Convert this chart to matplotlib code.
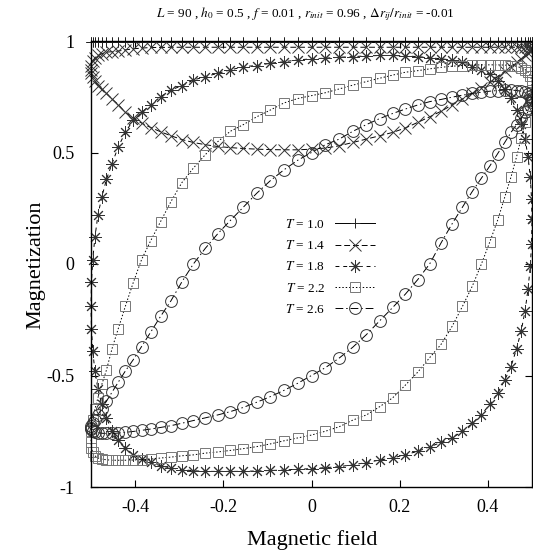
import matplotlib
matplotlib.use("Agg")
import matplotlib.pyplot as plt


#------------------------------------------------- Data ------------------------------------------------
# Field values of one half-period sweep, h = h_0 cos(2 pi f t), from +h_0 down to -h_0 (f = 0.01 -> 50 steps)
FieldDown = [0.5, 0.4990, 0.4961, 0.4911, 0.4843, 0.4755, 0.4649, 0.4524, 0.4382, 0.4222, 0.4045, 0.3853, 0.3645,
             0.3423, 0.3187, 0.2939, 0.2679, 0.2409, 0.2129, 0.1841, 0.1545, 0.1243, 0.0937, 0.0627, 0.0314, 0.0,
             -0.0314, -0.0627, -0.0937, -0.1243, -0.1545, -0.1841, -0.2129, -0.2409, -0.2679, -0.2939, -0.3187,
             -0.3423, -0.3645, -0.3853, -0.4045, -0.4222, -0.4382, -0.4524, -0.4649, -0.4755, -0.4843, -0.4911,
             -0.4961, -0.4990, -0.5]
FieldUp = FieldDown[::-1]  # Same points, swept back up

Temperatures = ["1.0", "1.4", "1.8", "2.2", "2.6"]

# Magnetization on the decreasing-field branch (aligned with FieldDown)
M_T10_Down = [0.997, 0.997, 0.997, 0.997, 0.997, 0.997, 0.997, 0.997, 0.997, 0.997, 0.997, 0.997, 0.997, 0.997,
              0.997, 0.997, 0.997, 0.997, 0.997, 0.997, 0.997, 0.997, 0.997, 0.997, 0.997, 0.997, 0.997, 0.997,
              0.997, 0.997, 0.997, 0.997, 0.997, 0.997, 0.997, 0.997, 0.997, 0.997, 0.997, 0.997, 0.997, 0.997,
              0.997, 0.997, 0.997, 0.997, 0.997, 0.997, 0.997, 0.997, 0.997]
M_T14_Down = [0.965, 0.968, 0.970, 0.971, 0.972, 0.972, 0.972, 0.972, 0.972, 0.972, 0.972, 0.972, 0.972, 0.972,
              0.972, 0.972, 0.972, 0.972, 0.972, 0.972, 0.972, 0.972, 0.972, 0.972, 0.972, 0.972, 0.972, 0.972,
              0.972, 0.972, 0.972, 0.972, 0.972, 0.972, 0.972, 0.972, 0.972, 0.971, 0.971, 0.968, 0.965, 0.960,
              0.955, 0.952, 0.950, 0.943, 0.935, 0.925, 0.910, 0.890, 0.870]
M_T18_Down = [0.20, 0.29, 0.39, 0.48, 0.56, 0.63, 0.69, 0.745, 0.785, 0.82, 0.85, 0.87, 0.885, 0.905, 0.915, 0.92,
              0.925, 0.93, 0.933, 0.935, 0.935, 0.933, 0.93, 0.927, 0.923, 0.92, 0.915, 0.907, 0.90, 0.89, 0.885,
              0.87, 0.855, 0.84, 0.825, 0.80, 0.78, 0.75, 0.715, 0.68, 0.645, 0.59, 0.525, 0.45, 0.38, 0.30, 0.22,
              0.12, 0.02, -0.08, -0.19]
M_T22_Down = [0.80, 0.825, 0.845, 0.86, 0.872, 0.88, 0.886, 0.89, 0.892, 0.893, 0.893, 0.893, 0.892, 0.89, 0.887,
              0.882, 0.875, 0.867, 0.86, 0.847, 0.833, 0.818, 0.802, 0.785, 0.768, 0.755, 0.742, 0.722, 0.69, 0.66,
              0.625, 0.595, 0.548, 0.49, 0.43, 0.365, 0.28, 0.19, 0.105, 0.02, -0.085, -0.19, -0.29, -0.38, -0.475,
              -0.54, -0.60, -0.65, -0.70, -0.75, -0.80]
M_T26_Down = [0.735, 0.745, 0.755, 0.762, 0.77, 0.775, 0.778, 0.78, 0.78, 0.778, 0.775, 0.77, 0.765, 0.757, 0.748,
              0.738, 0.728, 0.713, 0.695, 0.675, 0.652, 0.625, 0.595, 0.56, 0.535, 0.50, 0.465, 0.422, 0.373, 0.317,
              0.255, 0.195, 0.135, 0.07, 0.0, -0.08, -0.165, -0.235, -0.305, -0.37, -0.43, -0.48, -0.53, -0.575,
              -0.615, -0.65, -0.675, -0.70, -0.715, -0.727, -0.735]

# Magnetization on the increasing-field branch (aligned with FieldUp)
M_T10_Up = [0.997, 0.997, 0.997, 0.997, 0.997, 0.997, 0.997, 0.997, 0.997, 0.997, 0.997, 0.997, 0.997, 0.997,
            0.997, 0.997, 0.997, 0.997, 0.997, 0.997, 0.997, 0.997, 0.997, 0.997, 0.997, 0.997, 0.997, 0.997,
            0.997, 0.997, 0.997, 0.997, 0.997, 0.997, 0.997, 0.997, 0.997, 0.997, 0.997, 0.997, 0.997, 0.997,
            0.997, 0.997, 0.997, 0.997, 0.997, 0.997, 0.997, 0.997, 0.997]
M_T14_Up = [0.870, 0.855, 0.840, 0.820, 0.800, 0.785, 0.765, 0.740, 0.715, 0.680, 0.655, 0.632, 0.612, 0.593, 0.575,
            0.558, 0.545, 0.535, 0.527, 0.522, 0.518, 0.515, 0.513, 0.512, 0.512, 0.515, 0.520, 0.530, 0.545, 0.560,
            0.575, 0.590, 0.610, 0.635, 0.660, 0.685, 0.713, 0.740, 0.765, 0.790, 0.815, 0.840, 0.865, 0.885,
            0.905, 0.920, 0.935, 0.945, 0.955, 0.960, 0.965]
M_T18_Up = [-0.19, -0.29, -0.39, -0.48, -0.56, -0.63, -0.69, -0.75, -0.79, -0.825, -0.855, -0.875, -0.89, -0.905,
            -0.915, -0.922, -0.927, -0.93, -0.93, -0.93, -0.93, -0.928, -0.926, -0.924, -0.92, -0.918, -0.913,
            -0.909, -0.90, -0.891, -0.879, -0.87, -0.855, -0.84, -0.82, -0.80, -0.78, -0.75, -0.715, -0.675, -0.63,
            -0.58, -0.52, -0.46, -0.38, -0.30, -0.21, -0.11, -0.01, 0.09, 0.20]
M_T22_Up = [-0.80, -0.825, -0.845, -0.86, -0.87, -0.875, -0.878, -0.88, -0.88, -0.88, -0.879, -0.877, -0.875, -0.87,
            -0.866, -0.86, -0.856, -0.848, -0.843, -0.836, -0.828, -0.819, -0.807, -0.793, -0.78, -0.767, -0.75,
            -0.73, -0.70, -0.677, -0.64, -0.60, -0.543, -0.485, -0.42, -0.36, -0.28, -0.19, -0.10, 0.0, 0.10,
            0.197, 0.30, 0.39, 0.48, 0.565, 0.635, 0.69, 0.735, 0.77, 0.80]
M_T26_Up = [-0.735, -0.742, -0.748, -0.753, -0.757, -0.759, -0.76, -0.76, -0.758, -0.755, -0.751, -0.746, -0.74,
            -0.733, -0.725, -0.714, -0.702, -0.69, -0.677, -0.662, -0.643, -0.62, -0.595, -0.567, -0.535, -0.50,
            -0.465, -0.422, -0.373, -0.317, -0.255, -0.195, -0.135, -0.07, 0.0, 0.095, 0.18, 0.255, 0.325, 0.385,
            0.44, 0.495, 0.545, 0.59, 0.625, 0.655, 0.68, 0.70, 0.715, 0.725, 0.735]

M_Down = [M_T10_Down, M_T14_Down, M_T18_Down, M_T22_Down, M_T26_Down]
M_Up = [M_T10_Up, M_T14_Up, M_T18_Up, M_T22_Up, M_T26_Up]

XTicks = [-0.4, -0.2, 0, 0.2, 0.4]
XTickLabels = ["-0.4", "-0.2", "0", "0.2", "0.4"]
YTicks = [-1, -0.5, 0, 0.5, 1]
YTickLabels = ["-1", "-0.5", "0", "0.5", "1"]


#------------------------------------------------------ Styles ---------------------------------------------------------
Markers = ["+", "x", (8, 2, 0), "s", "o"]
MarkerSizes = [7.5, 8, 9, 7.5, 8.5]
MarkerEdges = ["#222222", "#333333", "#333333", "#777777", "#333333"]
Dashes = [(), (6, 3), (4, 4), (1.5, 2), (8, 3, 1.5, 3)]


#------------------------------------------------------- Plot ----------------------------------------------------------
plt.rcParams["font.family"] = ["Liberation Serif", "DejaVu Serif"]
plt.rcParams["mathtext.fontset"] = "stix"
plt.rcParams["axes.unicode_minus"] = False

fig = plt.figure(figsize = (5.33, 5.56), dpi = 100)
ax = fig.add_axes([91 / 533, 69 / 556, 441 / 533, 446 / 556])

for i, T in enumerate(Temperatures):
    # Full loop: decreasing sweep, then increasing sweep (turning point not repeated)
    h = FieldDown + FieldUp[1:]
    m = M_Down[i] + M_Up[i][1:]
    line, = ax.plot(h, m, color = "black", linewidth = 0.7, marker = Markers[i], markersize = MarkerSizes[i],
                    markerfacecolor = "none", markeredgecolor = MarkerEdges[i], markeredgewidth = 0.7,
                    clip_on = False, label = rf"$T$ = {T}")
    if Dashes[i]:
        line.set_dashes(Dashes[i])

ax.set_xlim(-0.5, 0.5)
ax.set_ylim(-1, 1)
ax.set_xticks(XTicks)
ax.set_xticklabels(XTickLabels)
ax.set_yticks(YTicks)
ax.set_yticklabels(YTickLabels)
ax.tick_params(direction = "in", top = True, right = True, length = 5, width = 0.8, labelsize = 13)
ax.tick_params(axis = "x", pad = 9)
ax.tick_params(axis = "y", pad = 12)
for spine in ax.spines.values():
    spine.set_linewidth(1.0)

fig.text(312 / 533, 1 - 545 / 556, "Magnetic field", fontsize = 16, ha = "center", va = "baseline")
fig.text(40 / 533, 1 - 265 / 556, "Magnetization", fontsize = 16, ha = "center", va = "baseline",
         rotation = 90, rotation_mode = "anchor")
fig.text(305 / 533, 1 - 17 / 556,
         r"$L$ = 90 , $h_0$ = 0.5 , $f$ = 0.01 , $r_{init}$ = 0.96 , $\Delta r_{ij}/r_{init}$ = -0.01",
         fontsize = 9.5, ha = "center", va = "baseline")

ax.legend(loc = "upper left", bbox_to_anchor = ((285 - 91) / 441, (487 - 218) / 446), frameon = False,
          markerfirst = False, numpoints = 1, fontsize = 9.5, handlelength = 3.0, handletextpad = 0.8,
          labelspacing = 0.62, borderpad = 0, borderaxespad = 0)

plt.savefig("out.png", dpi = 100)
